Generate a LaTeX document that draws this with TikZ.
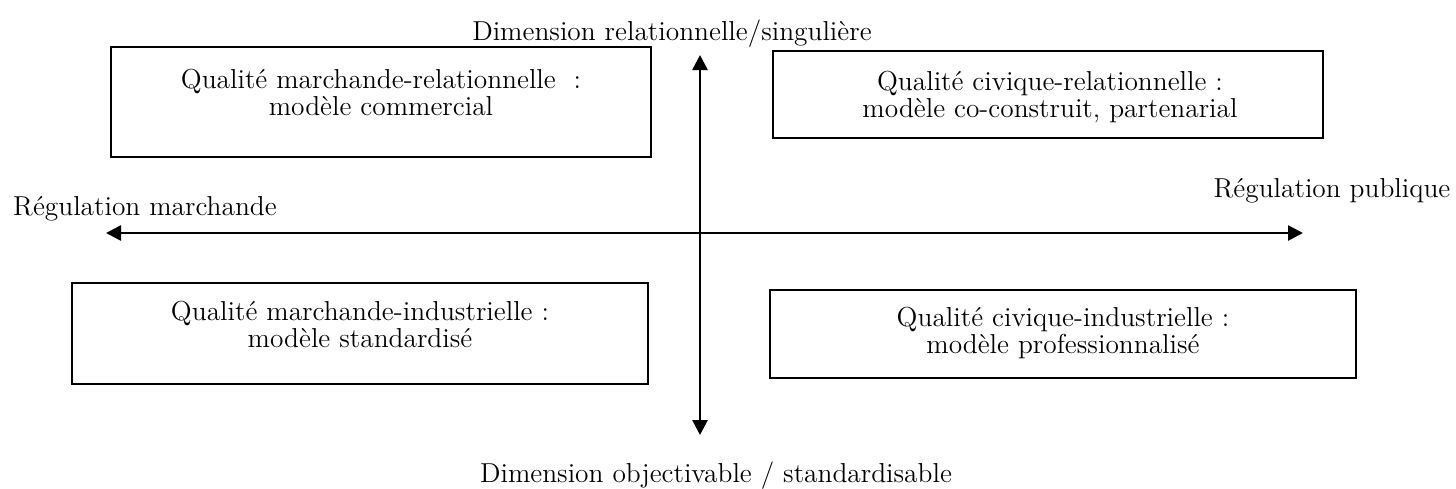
\documentclass[tikz,border=0pt]{standalone}
\usetikzlibrary{arrows.meta}
\begin{document}
\begin{tikzpicture}[x=0.5pt,y=-0.5pt,
  quad/.style={draw,line width=0.8pt,inner sep=0pt},
  txt/.style={align=center,font=\fontsize{13.7}{13.5}\selectfont,inner sep=0pt},
  axis/.style={line width=1.3pt,{Triangle[length=7.5pt,width=7.5pt]}-{Triangle[length=7.5pt,width=7.5pt]}}]
\useasboundingbox (0,0) rectangle (1456,488);
% boxes
\node[quad,minimum width=270pt,minimum height=55pt] (tl) at (381,102) {};
\node[quad,minimum width=275pt,minimum height=43.5pt] (tr) at (1048,94.5) {};
\node[quad,minimum width=288pt,minimum height=50.5pt] (bl) at (360,333.5) {};
\node[quad,minimum width=293pt,minimum height=44pt] (br) at (1063,334) {};
\node[txt] (tlt) at (381,92) {Qualité marchande-relationnelle\ \ :\\modèle commercial};
\node[txt] (trt) at (1050,97.5) {Qualité civique-relationnelle :\\modèle co-construit, partenarial};
\node[txt] (blt) at (360,324) {Qualité marchande-industrielle :\\modèle standardisé};
\node[txt] (brt) at (1063,333.5) {Qualité civique-industrielle :\\modèle professionnalisé};
% axis labels
\node[txt,anchor=base] (top) at (672,40) {Dimension relationnelle/singulière};
\node[txt,anchor=base] (bot) at (716,482) {Dimension objectivable / standardisable};
\node[txt,anchor=base] (lft) at (145,215) {Régulation marchande};
\node[txt,anchor=base] (rgt) at (1332,197) {Régulation publique};
% axes
\coordinate (ytop) at (700,55);
\coordinate (ybot) at (700,435);
\coordinate (xl) at (106,233);
\coordinate (xr) at (1303,233);
\draw[axis] (xl) -- (xr);
\draw[axis] (ytop) -- (ybot);
\end{tikzpicture}
\end{document}
